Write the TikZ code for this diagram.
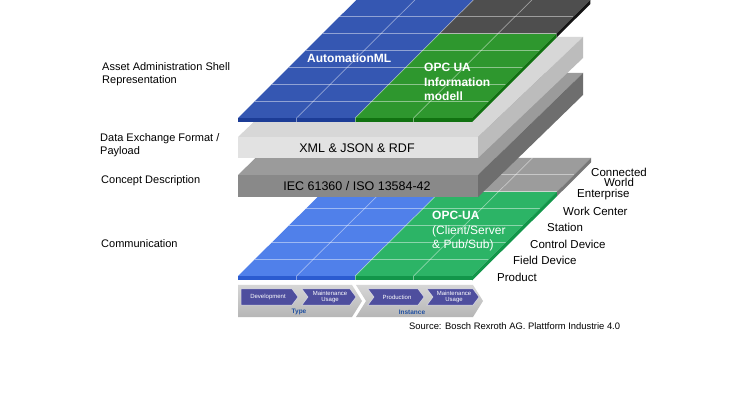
\documentclass[tikz,border=0pt]{standalone}
\usepackage{fontspec}
\setmainfont{Liberation Sans}
\definecolor{topBlue}{HTML}{3557B2}
\definecolor{topBlueDk}{HTML}{1C3C96}
\definecolor{topGreen}{HTML}{2E972E}
\definecolor{topGreenDk}{HTML}{117211}
\definecolor{topGray}{HTML}{4E4E4E}
\definecolor{topGrayDk}{HTML}{151515}
\definecolor{comBlue}{HTML}{5080EA}
\definecolor{comBlueDk}{HTML}{2B5BD0}
\definecolor{comGreen}{HTML}{2CB466}
\definecolor{comGreenDk}{HTML}{12964A}
\definecolor{comGray}{HTML}{9C9C9C}
\definecolor{comGrayDk}{HTML}{787878}
\definecolor{ltTop}{HTML}{D7D7D7}
\definecolor{ltFront}{HTML}{E2E2E2}
\definecolor{ltSide}{HTML}{BCBCBC}
\definecolor{dkTop}{HTML}{9B9B9B}
\definecolor{dkFront}{HTML}{898989}
\definecolor{dkSide}{HTML}{6E6E6E}
\definecolor{chevFill}{HTML}{4E4E9E}
\definecolor{phaseBlue}{HTML}{1F4FA0}
\definecolor{bandTop}{HTML}{D6D6D6}
\definecolor{bandBot}{HTML}{B6B6B6}
\begin{document}
\begin{tikzpicture}[x=1pt,y=-1pt,
  lbl/.style={font=\fontsize{11}{13}\selectfont, anchor=west, align=left, inner sep=0pt},
  lvl/.style={font=\fontsize{11.5}{10.5}\selectfont, anchor=west, inner sep=0pt},
  gridln/.style={draw=white, draw opacity=0.45, line width=0.7pt},
  slabtxt/.style={font=\fontsize{12.5}{14}\selectfont, inner sep=0pt},
  whitebold/.style={font=\fontsize{12}{14.5}\selectfont\bfseries, text=white, inner sep=0pt, align=left},
  whitereg/.style={font=\fontsize{12}{13.5}\selectfont, text=white, inner sep=0pt, align=left},
  chev/.style={fill=chevFill, draw=white, draw opacity=0.7, line width=0.5pt},
  chevtxt/.style={font=\fontsize{6}{6.5}\selectfont, text=white, align=center, inner sep=0pt},
  phase/.style={font=\fontsize{6.5}{7}\selectfont\bfseries, text=phaseBlue, inner sep=0pt},
  band/.style={top color=bandTop, bottom color=bandBot}]
\useasboundingbox (0,0) rectangle (746,419);
\fill[white] (0,0) rectangle (746,419);

% ---------- Communication layer ----------
\begin{scope}[shift={(238pt,-276pt)}, x={(58.5pt,0pt)}, y={(17pt,16.86pt)}]
  \fill[comBlue] (0,0)--(2,0)--(2,7)--(0,7)--cycle;
  \fill[comGreen] (2,0)--(4,0)--(4,5)--(2,5)--cycle;
  \fill[comGray] (2,5)--(4,5)--(4,7)--(2,7)--cycle;
  \foreach \i in {1,2,3} \draw[gridln] (\i,0)--(\i,7);
  \foreach \j in {1,...,6} \draw[gridln] (0,\j)--(4,\j);
  \fill[comBlueDk] (0,0)--(2,0)--([yshift=-4.5pt]2,0)--([yshift=-4.5pt]0,0)--cycle;
  \fill[comGreenDk] (2,0)--(4,0)--([yshift=-4.5pt]4,0)--([yshift=-4.5pt]2,0)--cycle;
  \fill[comGreenDk] (4,0)--(4,5)--([yshift=-4.5pt]4,5)--([yshift=-4.5pt]4,0)--cycle;
  \fill[comGrayDk] (4,5)--(4,7)--([yshift=-4.5pt]4,7)--([yshift=-4.5pt]4,5)--cycle;
  \foreach \i in {1,2,3} \draw[gridln] (\i,0)--([yshift=-4.5pt]\i,0);
\end{scope}
\node[whitebold, anchor=base west] (opcua) at (432,220) {OPC-UA};
\node[whitereg, anchor=base west] (clientserver) at (432,248.5) {(Client/Server\\\& Pub/Sub)};

% ---------- Concept description slab ----------
\fill[dkTop] (238,175)--(478,175)--(583,73)--(343,73)--cycle;
\fill[dkFront] (238,175) rectangle (478,197);
\fill[dkSide] (478,175)--(583,73)--(583,95)--(478,197)--cycle;
\node[slabtxt] (iec) at (357,186.5) {IEC 61360 / ISO 13584-42};

% ---------- Data exchange slab ----------
\fill[ltTop] (238,137)--(478,137)--(583,37)--(343,37)--cycle;
\fill[ltFront] (238,137) rectangle (478,158);
\fill[ltSide] (478,137)--(583,37)--(583,58)--(478,158)--cycle;
\node[slabtxt] (xml) at (357,148) {XML \& JSON \& RDF};

% ---------- AAS representation layer ----------
\begin{scope}[shift={(238pt,-118pt)}, x={(58.5pt,0pt)}, y={(16.9pt,16.86pt)}]
  \fill[topBlue] (0,0)--(2,0)--(2,7)--(0,7)--cycle;
  \fill[topGreen] (2,0)--(4,0)--(4,5)--(2,5)--cycle;
  \fill[topGray] (2,5)--(4,5)--(4,7)--(2,7)--cycle;
  \foreach \i in {1,2,3} \draw[gridln] (\i,0)--(\i,7);
  \foreach \j in {1,...,6} \draw[gridln] (0,\j)--(4,\j);
  \fill[topBlueDk] (0,0)--(2,0)--([yshift=-4pt]2,0)--([yshift=-4pt]0,0)--cycle;
  \fill[topGreenDk] (2,0)--(4,0)--([yshift=-4pt]4,0)--([yshift=-4pt]2,0)--cycle;
  \fill[topGreenDk] (4,0)--(4,5)--([yshift=-4pt]4,5)--([yshift=-4pt]4,0)--cycle;
  \fill[topGrayDk] (4,5)--(4,7)--([yshift=-4pt]4,7)--([yshift=-4pt]4,5)--cycle;
  \foreach \i in {1,2,3} \draw[gridln] (\i,0)--([yshift=-4pt]\i,0);
\end{scope}
\node[whitebold, anchor=base west] (aml) at (307,62.5) {AutomationML};
\node[whitebold, anchor=base west] (opcinfo) at (424,101) {OPC UA\\Information\\modell};

% ---------- Left labels ----------
\node[lbl] (aas) at (102,74.5) {Asset Administration Shell\\Representation};
\node[lbl] (dex) at (100,145.5) {Data Exchange Format /\\Payload};
\node[lbl] (cd) at (101,181) {Concept Description};
\node[lbl] (com) at (101,244) {Communication};

% ---------- Hierarchy levels ----------
\node[lvl] (product) at (497,277) {Product};
\node[lvl] (field) at (513,260.5) {Field Device};
\node[lvl] (control) at (530,244) {Control Device};
\node[lvl] (station) at (547,227.5) {Station};
\node[lvl] (work) at (563,211) {Work Center};
\node[lvl] (enterprise) at (577,195) {Enterprise};
\node[lvl, anchor=center, align=center] (world) at (619,177.5) {Connected\\World};

% ---------- Life cycle chevrons ----------
\shade[band] (238,285)--(352,285)--(362,301)--(352,317)--(238,317)--cycle;
\shade[band] (356,285)--(473,285)--(483,301)--(473,317)--(356,317)--(366,301)--cycle;
\draw[chev] (241,289)--(292,289)--(298,297)--(292,305)--(241,305)--cycle;
\draw[chev] (302,289)--(350,289)--(356,297)--(350,305)--(302,305)--(308,297)--cycle;
\draw[chev] (368,289)--(418,289)--(424,297)--(418,305)--(368,305)--(374,297)--cycle;
\draw[chev] (427,289)--(473,289)--(479,297)--(473,305)--(427,305)--(433,297)--cycle;
\node[chevtxt] (dev) at (268,297) {Development};
\node[chevtxt] (mu1) at (330,297) {Maintenance\\Usage};
\node[chevtxt] (prod) at (397,297) {Production};
\node[chevtxt] (mu2) at (454,297) {Maintenance\\Usage};
\node[phase] (type) at (299,312) {Type};
\node[phase] (inst) at (412,312) {Instance};

% ---------- Source ----------
\node[font=\fontsize{9.4}{11}\selectfont, anchor=west, inner sep=0pt] (src) at (409,326) {Source: Bosch Rexroth AG. Plattform Industrie 4.0};
\end{tikzpicture}
\end{document}
